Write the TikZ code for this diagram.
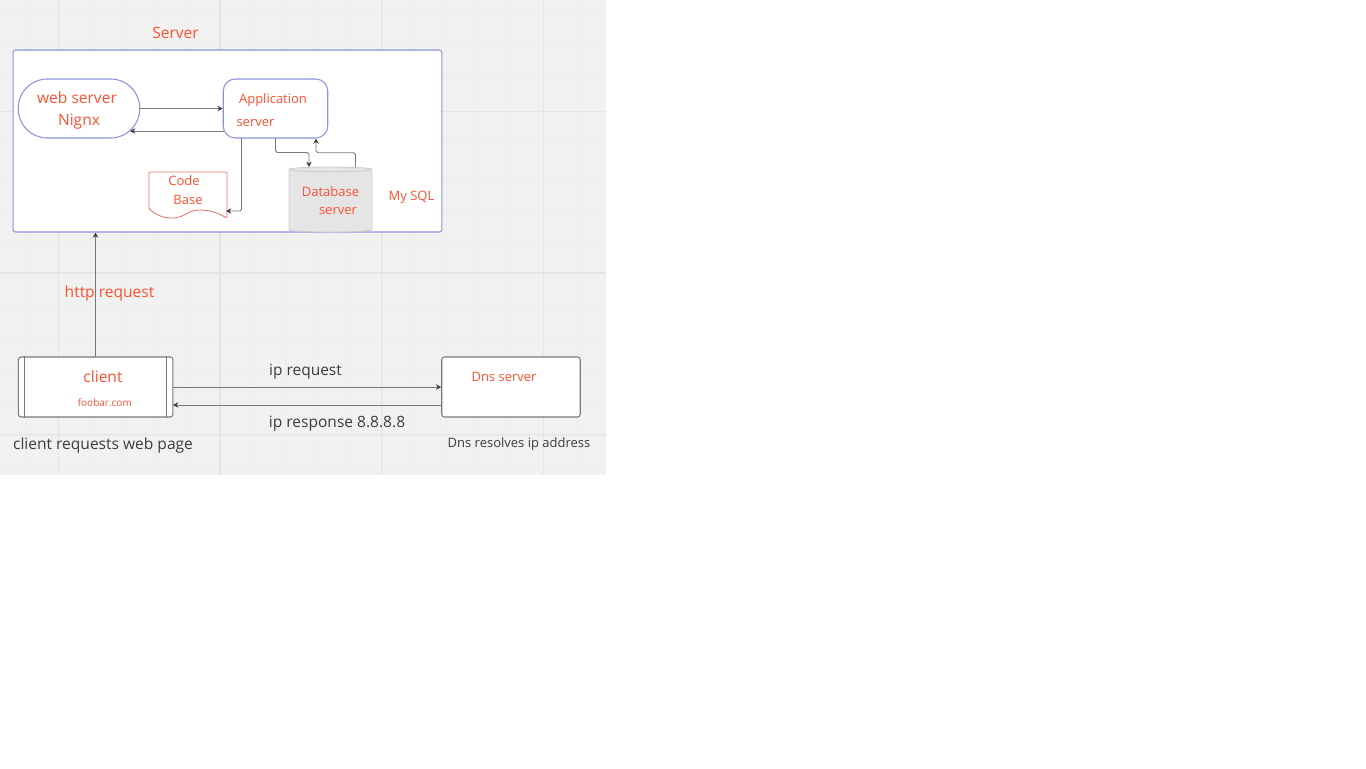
\documentclass[tikz,border=0pt]{standalone}
\usepackage{xcolor}
\usepackage{fontspec}
\setmainfont{Open Sans}
\usepackage{tikz}
\usetikzlibrary{shapes.geometric, arrows.meta, calc}
\definecolor{myorange}{RGB}{255,80,48}
\definecolor{myblue}{RGB}{140,146,220}
\definecolor{mygray}{RGB}{120,120,120}
\definecolor{mydark}{RGB}{60,60,60}
\definecolor{mydoc}{RGB}{226,120,110}
\definecolor{hdrcanvas}{RGB}{241,241,241}
\definecolor{hdrminor}{RGB}{237,237,237}
\definecolor{hdrmajor}{RGB}{228,228,228}
\definecolor{hdrdb}{RGB}{229,229,229}
\definecolor{linedb}{RGB}{205,205,205}
\tikzset{
  bluebox/.style={rectangle, draw=myblue, fill=white, line width=0.6pt},
  graybox/.style={rectangle, draw=mygray, fill=white, line width=0.6pt, rounded corners=1.5pt},
  bigred/.style={text=myorange, inner sep=0pt, align=center, font=\fontsize{8.85}{12.5}\selectfont},
  midred/.style={text=myorange, inner sep=0pt, align=center, font=\fontsize{7.4}{10.5}\selectfont},
  smallred/.style={text=myorange, inner sep=0pt, font=\fontsize{5.7}{7}\selectfont},
  bigtext/.style={text=mydark, inner sep=0pt, font=\fontsize{8.85}{11}\selectfont},
  midtext/.style={text=mydark, inner sep=0pt, font=\fontsize{8.8}{10}\selectfont},
  smalltext/.style={text=mydark, inner sep=0pt, font=\fontsize{7.4}{9}\selectfont},
  arrow/.style={-{Stealth[length=3pt,width=3pt,color=mydark]}, line width=0.55pt, color=mygray, rounded corners=1pt}
}

\begin{document}
\begin{tikzpicture}[x=0.02cm, y=-0.02cm]
  \useasboundingbox (0,0) rectangle (1366,768);
  \fill[white] (0,0) rectangle (1366,768);

  % Canvas
  \fill[hdrcanvas] (0,0) rectangle (606,475);
  \foreach \i in {0,...,17} {
    \draw[hdrminor, line width=0.55pt] ({26.3+32.34*\i},0) -- ({26.3+32.34*\i},475);
  }
  \foreach \i in {0,...,14} {
    \draw[hdrminor, line width=0.55pt] (0,{14.6+32.34*\i}) -- (606,{14.6+32.34*\i});
  }
  \foreach \i in {0,...,3} {
    \draw[hdrmajor, line width=0.7pt] ({58.3+161.7*\i},0) -- ({58.3+161.7*\i},475);
  }
  \foreach \i in {0,...,2} {
    \draw[hdrmajor, line width=0.7pt] (0,{111.6+161.4*\i}) -- (606,{111.6+161.4*\i});
  }

  % Server
  \node[bigred] (servertitle) at (175.5,33) {Server};
  \node[bluebox, rounded corners=1.5pt, minimum width=8.58cm, minimum height=3.64cm] (server) at (227.5,141) {};

  % Inside the server
  \node[bluebox, rounded corners=0.58cm, minimum width=2.43cm, minimum height=1.18cm] (web) at (79,108.5) {};
  \node[bigred] (weblabel) at (77,110) {web server\\\ Nignx};
  \node[bluebox, rounded corners=0.24cm, minimum width=2.09cm, minimum height=1.18cm] (app) at (275.5,108.5) {};
  \node[midred] (applabel) at (273,100.5) {Application};
  \node[midred] (applabeltwo) at (255.5,123) {server};
  \node[draw=none, minimum width=1.56cm, minimum height=0.92cm] (code) at (188,195) {};
  \draw[mydoc, fill=white, line width=0.5pt, rounded corners=0.6pt] (149,209) -- (149,172) -- (227,172) -- (227,218)
    .. controls (216,212) and (208,210) .. (200,210) .. controls (188,210) and (184,218) .. (172,218) .. controls (162,218) and (155,214) .. (149,209) -- cycle;
  \node[midred] (codelabel) at (184,181) {Code};
  \node[midred] (codelabeltwo) at (188,199.5) {Base};
  \node[cylinder, shape border rotate=90, aspect=0.4, draw=linedb, fill=hdrdb, line width=0.5pt, minimum width=1.66cm, minimum height=1.3cm] (db) at (330.5,201.5) {};
  \node[midred] (dblabel) at (330.5,191.5) {Database};
  \node[midred] (dblabeltwo) at (338,211) {server};
  \node[midred] (sql) at (411.5,197.5) {My SQL};

  % Client and dns
  \node[graybox, minimum width=3.09cm, minimum height=1.2cm] (client) at (95.7,387) {};
  \draw[mygray, line width=0.6pt] ([xshift=0.14cm]client.north west) -- ([xshift=0.14cm]client.south west);
  \draw[mygray, line width=0.6pt] ([xshift=-0.13cm]client.north east) -- ([xshift=-0.13cm]client.south east);
  \node[bigred] (clientlabel) at (103,376.5) {client};
  \node[smallred] (foobar) at (104.8,403) {foobar.com};
  \node[graybox, minimum width=2.77cm, minimum height=1.2cm] (dns) at (511,387) {};
  \node[midred] (dnslabel) at (504,376.5) {Dns server};

  % Texts
  \node[bigred] (http) at (109.5,293) {http request};
  \node[midtext] (iprequest) at (305.5,372) {ip request};
  \node[bigtext] (ipresponse) at (337,423.5) {ip response 8.8.8.8};
  \node[bigtext] (clienttext) at (103,445.5) {client requests web page};
  \node[smalltext] (dnstext) at (519,444.5) {Dns resolves ip address};

  % Free ends
  \coordinate (appw) at (223.5,131);
  \coordinate (webe) at (130,131);
  \coordinate (codee) at (226,211);
  \coordinate (appa) at (241.5,138);
  \coordinate (appb) at (275.5,138);
  \coordinate (appc) at (316,138.5);
  \coordinate (dba) at (309,167);
  \coordinate (dbb) at (355.5,167);
  \coordinate (clienta) at (95.5,357);
  \coordinate (servera) at (95.5,232.5);
  \coordinate (clientb) at (173,405);
  \coordinate (dnsb) at (442,405);

  % Edges
  \draw[arrow] (web.east) -- (app.west);
  \draw[arrow] (appw) -- (webe);
  \draw[arrow] (appa) |- (codee);
  \draw[arrow] (appb) |- ($(appb)!0.5!(dba)$) -| (dba);
  \draw[arrow] (dbb) |- ($(dbb)!0.5!(appc)$) -| (appc);
  \draw[arrow] (clienta) -- (servera);
  \draw[arrow] (client.east) -- (dns.west);
  \draw[arrow] (dnsb) -- (clientb);
\end{tikzpicture}
\end{document}
